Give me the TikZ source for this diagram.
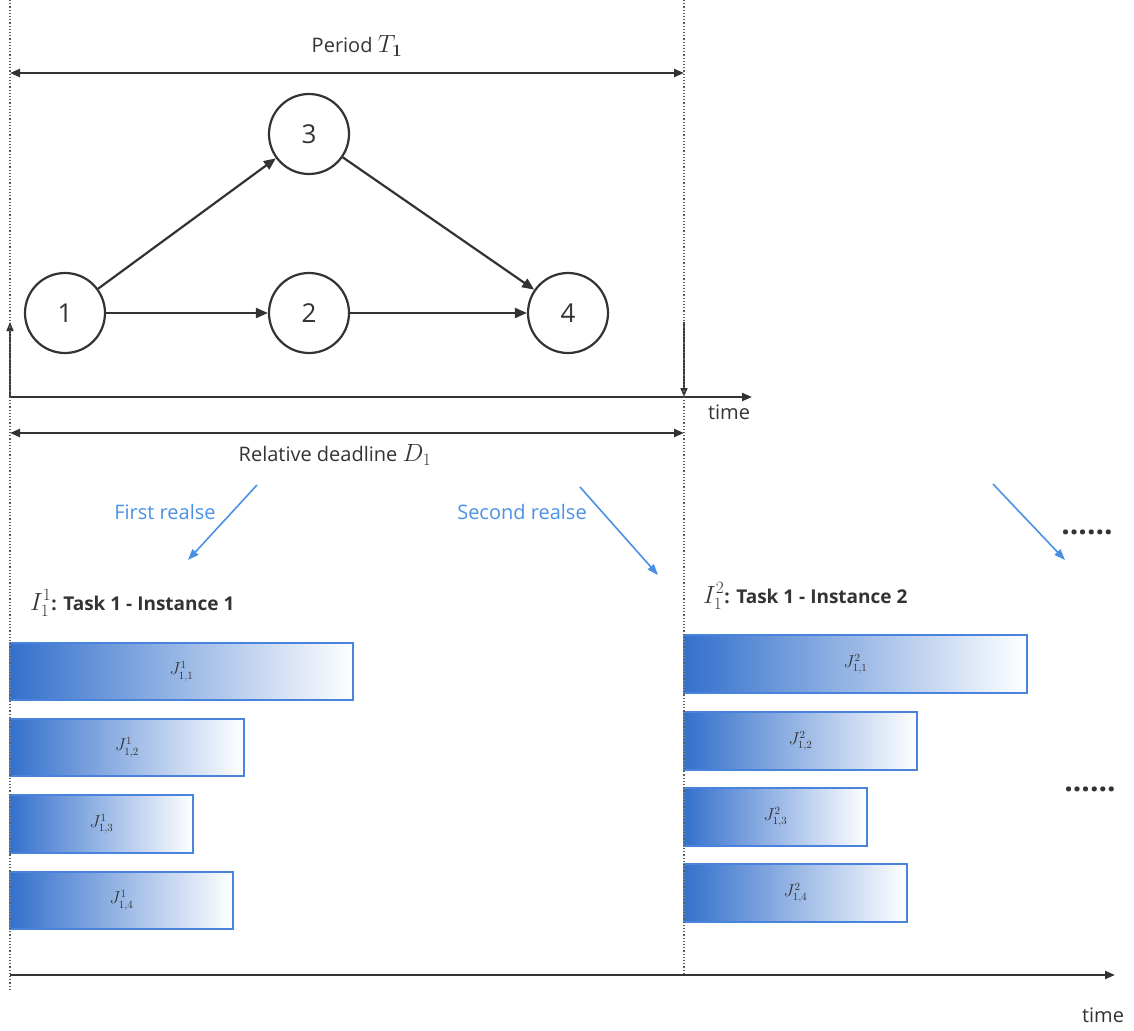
\documentclass[tikz,border=0pt]{standalone}
\usepackage[no-math]{fontspec}
\usepackage{amsmath}
\setmainfont{Open Sans}
\usetikzlibrary{arrows.meta}
\definecolor{ink}{RGB}{51,51,51}
\definecolor{rel}{RGB}{74,145,230}
\definecolor{bardark}{RGB}{52,112,204}
\definecolor{barline}{RGB}{72,132,220}
\newcommand{\bigmath}[1]{{\fontsize{26}{28}\selectfont$#1$}}
\tikzset{
  tip/.style={-{Triangle[length=10pt,width=8pt]}},
  dtip/.style={{Triangle[length=10pt,width=8pt]}-{Triangle[length=10pt,width=8pt]}},
  vnode/.style={circle,draw=ink,line width=2.2pt,minimum size=80pt,inner sep=0pt,font=\fontsize{26}{30}\selectfont,text=ink},
  edge/.style={draw=ink,line width=2.2pt,-{Triangle[length=12pt,width=10pt]}},
  axis/.style={draw=ink,line width=2.2pt,tip},
  marker/.style={draw=ink,line width=1.6pt,-{Triangle[length=9pt,width=7pt]}},
  guide/.style={draw=ink!80,dotted,line width=1.2pt},
  lbl/.style={font=\fontsize{20}{24}\selectfont,text=ink,inner sep=0pt},
  blbl/.style={font=\fontsize{20}{24}\selectfont,text=rel,inner sep=0pt},
  ilbl/.style={font=\fontsize{19}{23}\selectfont\bfseries,text=ink,inner sep=0pt,anchor=west},
  rarr/.style={draw=rel,line width=1.6pt,-{Triangle[length=11pt,width=8pt]}},
  bar/.style={draw=barline,line width=1.6pt,left color=bardark,right color=white,inner sep=0pt,font=\fontsize{16}{18}\selectfont,text=ink},
  dots/.style={font=\fontsize{30}{32}\selectfont\bfseries,text=ink,inner sep=0pt}
}
\begin{document}
\begin{tikzpicture}[x=1pt,y=-1pt]
\useasboundingbox (0,0) rectangle (1134,1030);
% period
\coordinate (pL) at (10,73);
\coordinate (pR) at (684,73);
\draw[draw=ink,line width=2.2pt,dtip] (pL) -- (pR);
\node[lbl] (period) at (357,46) {Period \bigmath{T_{\boldsymbol{1}}}};
% graph
\node[vnode] (n1) at (65,313) {1};
\node[vnode] (n3) at (309,134) {3};
\node[vnode] (n2) at (309,313) {2};
\node[vnode] (n4) at (568,313) {4};
\draw[edge] (n1) -- (n3);
\draw[edge] (n1) -- (n2);
\draw[edge] (n2) -- (n4);
\draw[edge] (n3) -- (n4);
% first time axis
\coordinate (a0) at (10,397);
\coordinate (a1) at (752,397);
\coordinate (up0) at (10,397);
\coordinate (up1) at (10,322);
\coordinate (dn0) at (684,322);
\coordinate (dn1) at (684,397);
\draw[axis] (a0) -- (a1);
\draw[marker] (up0) -- (up1);
\draw[marker] (dn0) -- (dn1);
\node[lbl] (time1) at (729,412) {time};
% deadline
\coordinate (dL) at (10,433);
\coordinate (dR) at (684,433);
\draw[draw=ink,line width=2.2pt,dtip] (dL) -- (dR);
\node[lbl] (deadline) at (335,455) {Relative deadline \bigmath{D_1}};
% releases
\coordinate (r1a) at (257,485); \coordinate (r1b) at (188,560);
\coordinate (r2a) at (580,487); \coordinate (r2b) at (658,575);
\coordinate (r3a) at (993,484); \coordinate (r3b) at (1065,560);
\draw[rarr] (r1a) -- (r1b);
\draw[rarr] (r2a) -- (r2b);
\draw[rarr] (r3a) -- (r3b);
\node[blbl] (first) at (165,512) {First realse};
\node[blbl] (second) at (522,512) {Second realse};
\node[dots] (dotsA) at (1087,532) {......};
% instance labels
\node[ilbl] (inst1) at (30,603) {{\fontsize{24}{26}\selectfont$I_1^1$}: Task 1 - Instance 1};
\node[ilbl] (inst2) at (703,596) {{\fontsize{24}{26}\selectfont$I_1^2$}: Task 1 - Instance 2};
% bars instance 1
\node[bar,minimum width=343pt,minimum height=57pt] (j11) at (181.5,671.5) {$J^1_{1,1}$};
\node[bar,minimum width=234pt,minimum height=57pt] (j12) at (127,747.5) {$J^1_{1,2}$};
\node[bar,minimum width=183pt,minimum height=58pt] (j13) at (101.5,824) {$J^1_{1,3}$};
\node[bar,minimum width=223pt,minimum height=57pt] (j14) at (121.5,900.5) {$J^1_{1,4}$};
% bars instance 2
\node[bar,minimum width=343pt,minimum height=58pt] (j21) at (855.5,664) {$J^2_{1,1}$};
\node[bar,minimum width=233pt,minimum height=58pt] (j22) at (800.5,741) {$J^2_{1,2}$};
\node[bar,minimum width=183pt,minimum height=58pt] (j23) at (775.5,817) {$J^2_{1,3}$};
\node[bar,minimum width=223pt,minimum height=58pt] (j24) at (795.5,893) {$J^2_{1,4}$};
\node[dots] (dotsB) at (1090,789) {......};
% guides
\coordinate (gL0) at (10,0); \coordinate (gL1) at (10,990);
\coordinate (gR0) at (684,0); \coordinate (gR1) at (684,975);
\draw[guide] (gL0) -- (gL1);
\draw[guide] (gR0) -- (gR1);
% bottom axis
\coordinate (b0) at (10,975);
\coordinate (b1) at (1115,975);
\draw[axis] (b0) -- (b1);
\node[lbl] (time2) at (1103,1015) {time};
\end{tikzpicture}
\end{document}
